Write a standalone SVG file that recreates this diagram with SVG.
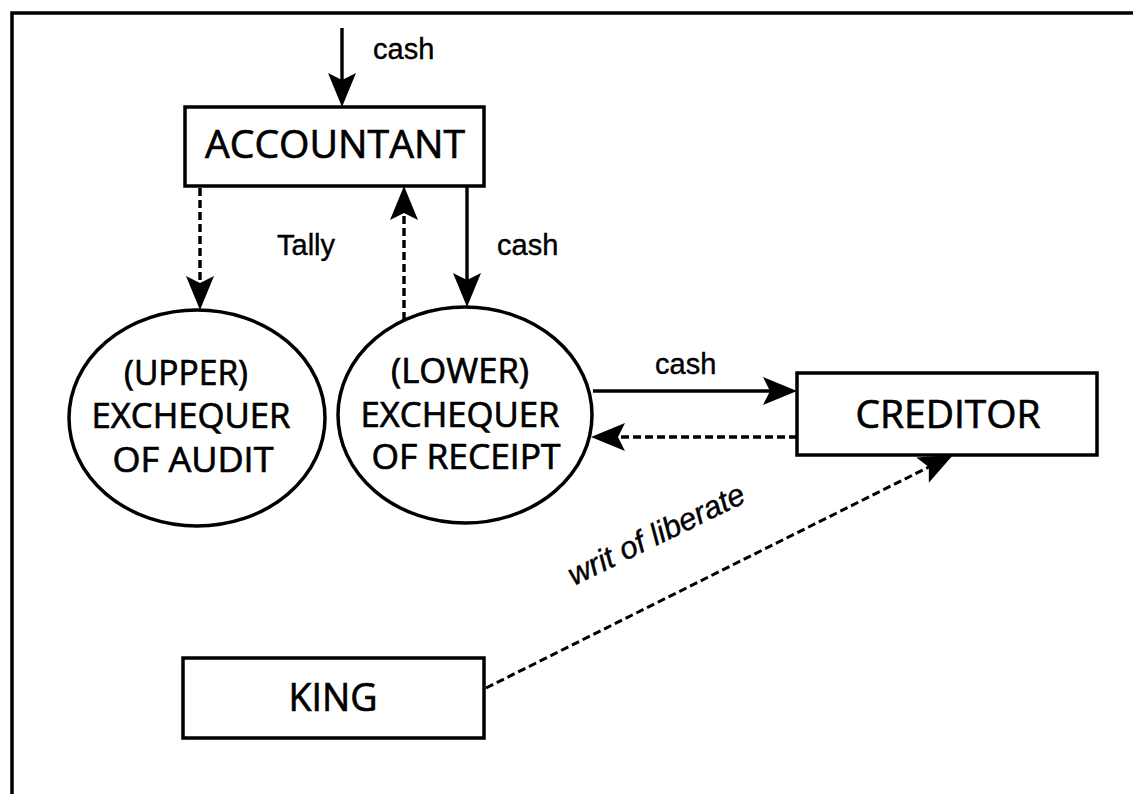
<svg xmlns="http://www.w3.org/2000/svg" width="1133" height="794" viewBox="0 0 1133 794">
<style>
.box{fill:#fff;stroke:#000;stroke-width:3.5}
.ell{fill:#fff;stroke:#000;stroke-width:3.5}
.nt{font-family:"Open Sans","Noto Sans",sans-serif;fill:#000;text-anchor:middle;stroke:#000;stroke-width:0.7}
.big{font-size:39px}
.mid{font-size:34px}
.lbl{font-family:"Liberation Sans",Arial,sans-serif;font-size:29px;fill:#000;stroke:#000;stroke-width:0.4}
.ln{fill:none;stroke:#000;stroke-width:3.4}
.dash{stroke-dasharray:8 4}
</style>
<defs>
<marker id="ah" viewBox="-35 -16 36 32" refX="-20" refY="0" markerWidth="36" markerHeight="32" markerUnits="userSpaceOnUse" orient="auto">
<path d="M0,0 L-34,-14 L-27,0 L-34,14 Z" fill="#000"/>
</marker>
</defs>
<rect width="1133" height="794" fill="#fff"/>
<path d="M12,794 L12,13 L1133,13" fill="none" stroke="#000" stroke-width="3.5"/>
<g id="connectors">
<path class="ln" d="M342,28 L342,87" marker-end="url(#ah)"/>
<path class="ln dash" d="M200,188 L200,290" marker-end="url(#ah)"/>
<path class="ln dash" d="M404,320 L404,206" marker-end="url(#ah)"/>
<path class="ln" d="M467,186 L467,287" marker-end="url(#ah)"/>
<path class="ln" d="M593,391 L777,391" marker-end="url(#ah)"/>
<path class="ln dash" d="M797,437 L611,437" marker-end="url(#ah)"/>
<path class="ln dash" style="stroke-width:3" d="M486,688 L935.1,463.9" marker-end="url(#ah)"/>
<text class="lbl" x="373" y="59">cash</text>
<text class="lbl" x="277" y="255">Tally</text>
<text class="lbl" x="497" y="255">cash</text>
<text class="lbl" x="655" y="374">cash</text>
<text class="lbl" font-style="italic" style="font-size:31px" transform="translate(574,586) rotate(-26)">writ of liberate</text>
</g>
<g id="accountant">
<rect class="box" x="185" y="107" width="299" height="79"/>
<text class="nt big" x="335" y="158" textLength="260" lengthAdjust="spacingAndGlyphs">ACCOUNTANT</text>
</g>
<g id="upper-exchequer">
<ellipse class="ell" cx="197" cy="418" rx="128" ry="108"/>
<text class="nt mid" x="186" y="385" textLength="124" lengthAdjust="spacingAndGlyphs">(UPPER)</text>
<text class="nt mid" x="191" y="428" textLength="199" lengthAdjust="spacingAndGlyphs">EXCHEQUER</text>
<text class="nt mid" x="193" y="472" textLength="161" lengthAdjust="spacingAndGlyphs">OF AUDIT</text>
</g>
<g id="lower-exchequer">
<ellipse class="ell" cx="465" cy="415" rx="127" ry="108"/>
<text class="nt mid" x="460" y="383" textLength="138" lengthAdjust="spacingAndGlyphs">(LOWER)</text>
<text class="nt mid" x="460" y="427" textLength="199" lengthAdjust="spacingAndGlyphs">EXCHEQUER</text>
<text class="nt mid" x="466" y="469" textLength="189" lengthAdjust="spacingAndGlyphs">OF RECEIPT</text>
</g>
<g id="creditor">
<rect class="box" x="797" y="373" width="300" height="82"/>
<text class="nt big" x="948" y="428" textLength="185" lengthAdjust="spacingAndGlyphs">CREDITOR</text>
</g>
<g id="king">
<rect class="box" x="183" y="658" width="301" height="80"/>
<text class="nt big" x="333" y="711" textLength="89" lengthAdjust="spacingAndGlyphs">KING</text>
</g>
</svg>
